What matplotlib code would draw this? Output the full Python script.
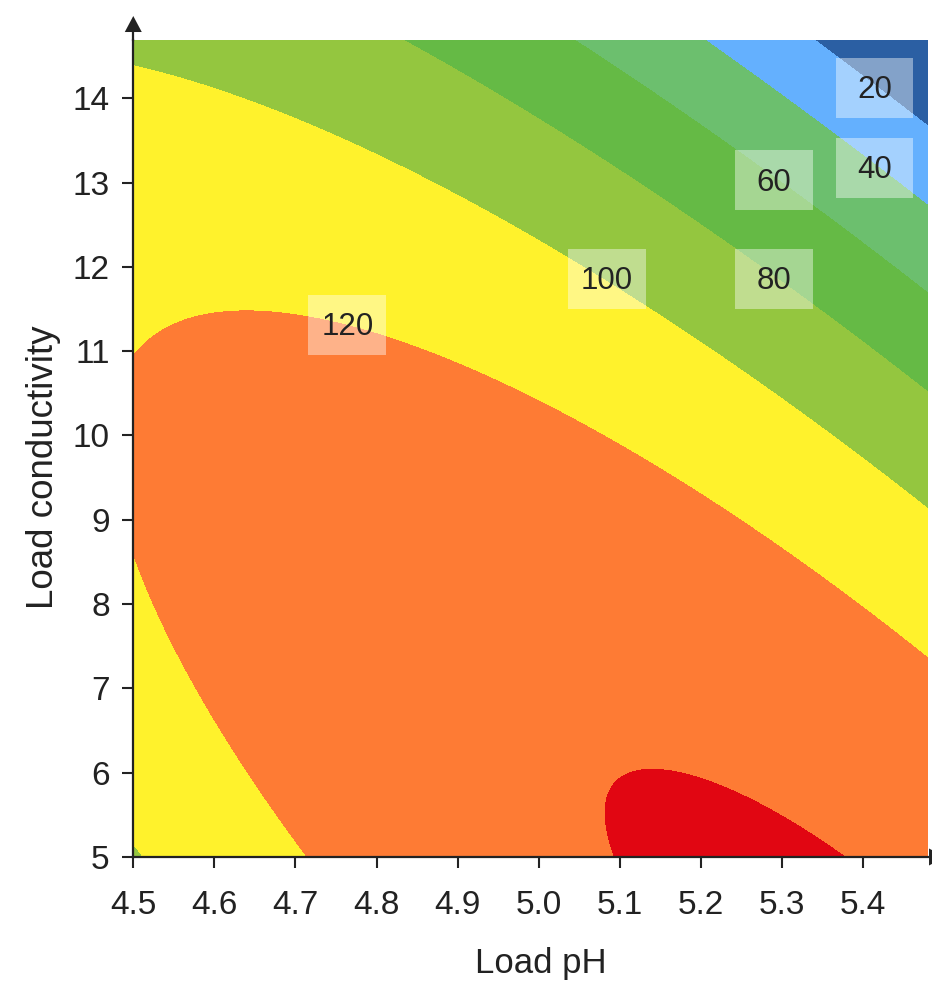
import numpy as np
import matplotlib.pyplot as plt
from matplotlib.patches import Rectangle, Polygon

plt.rcParams['font.family'] = ['Liberation Sans', 'DejaVu Sans']

# response surface, coded units: u = (pH - 5.0)/0.5, v = (cond - 10)/5
# terms: 1, u, v, u^2, v^2, u*v
coef = [123.348, -17.872, -38.933, -19.894, -25.092, -36.620]
ph_range = [4.5, 5.48]
cond_range = [5.0, 14.69]

levels = [20, 40, 60, 80, 100, 120, 140]
colors = ['#2b5fa3', '#64b0fe', '#6cbf6e', '#65ba45', '#94c63f',
          '#fff22c', '#fe7b34', '#e10612']

xticks = [4.5, 4.6, 4.7, 4.8, 4.9, 5.0, 5.1, 5.2, 5.3, 5.4]
yticks = [5, 6, 7, 8, 9, 10, 11, 12, 13, 14]

x = np.linspace(ph_range[0], ph_range[1], 400)
y = np.linspace(cond_range[0], cond_range[1], 400)
X, Y = np.meshgrid(x, y)
U = (X - 5.0) / 0.5
V = (Y - 10.0) / 5.0
Z = coef[0] + coef[1]*U + coef[2]*V + coef[3]*U*U + coef[4]*V*V + coef[5]*U*V

fig = plt.figure(figsize=(9.32, 9.81), dpi=100)
ax = fig.add_axes([0.1430, 0.1264, 0.8527, 0.8328])
ax.contourf(X, Y, Z, levels=[Z.min() - 1] + levels + [Z.max() + 1], colors=colors)

# label boxes (centre x, centre y)
lab_pos = {20: (5.414, 14.124), 40: (5.414, 13.175), 60: (5.290, 13.03),
           80: (5.290, 11.857), 100: (5.084, 11.857), 120: (4.764, 11.311)}
bw, bh = 0.096, 0.712
for lv in lab_pos:
    cx, cy = lab_pos[lv]
    ax.add_patch(Rectangle((cx - bw/2, cy - bh/2), bw, bh, facecolor='white',
                           alpha=0.42, edgecolor='none', zorder=3))
    ax.text(cx, cy - 0.03, str(lv), ha='center', va='center', fontsize=22.5,
            color='#222222', zorder=4)

ax.set_xlim(ph_range)
ax.set_ylim(cond_range)
ax.set_xticks(xticks)
ax.set_xticklabels(['%.1f' % t for t in xticks])
ax.set_yticks(yticks)
ax.tick_params(labelsize=24, length=8, width=1.5, color='#222222',
               labelcolor='#222222')
ax.tick_params(axis='x', pad=16)
ax.tick_params(axis='y', pad=9)

for s in ['top', 'right']:
    ax.spines[s].set_visible(False)
for s in ['left', 'bottom']:
    ax.spines[s].set_linewidth(1.6)
    ax.spines[s].set_color('#222222')

# axis arrows
ax.plot([0, 0], [1.0, 1.012], color='#222222', lw=1.6,
        transform=ax.transAxes, clip_on=False)
ax.add_patch(Polygon([(-0.0107, 1.0098), (0.0107, 1.0098), (0, 1.0294)],
                     closed=True, facecolor='#222222', edgecolor='none',
                     transform=ax.transAxes, clip_on=False))
ax.add_patch(Polygon([(1.0013, -0.0104), (1.0013, 0.0104), (1.0214, 0)],
                     closed=True, facecolor='#222222', edgecolor='none',
                     transform=ax.transAxes, clip_on=False))

ax.set_xlabel('Load pH', fontsize=25, color='#222222')
ax.xaxis.set_label_coords(0.5126, -0.142)
ax.xaxis.label.set_verticalalignment('baseline')
ax.set_ylabel('Load conductivity', fontsize=26.5, color='#222222')
ax.yaxis.set_label_coords(-0.1006, 0.477)
ax.yaxis.label.set_verticalalignment('baseline')

fig.savefig('out.png')
